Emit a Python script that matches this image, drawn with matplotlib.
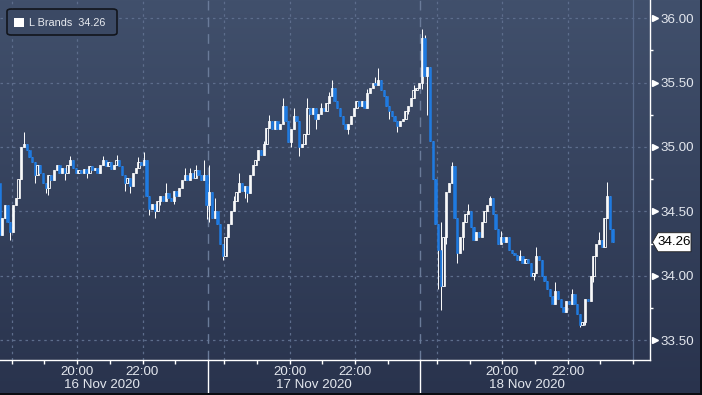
import numpy as np
import matplotlib
matplotlib.use("Agg")
import matplotlib.pyplot as plt
from matplotlib.patches import Rectangle, Polygon, FancyBboxPatch
from matplotlib.lines import Line2D
import matplotlib.transforms as mtransforms

# ---------------- data (5-minute bars, one list per session) ----------------
series_name = "L Brands"
last_price = 34.26
first_open = 34.70

day_labels = ["16 Nov 2020", "17 Nov 2020", "18 Nov 2020"]
hour_labels = ["20:00", "22:00"]

close_day1 = [34.72, 34.32, 34.45, 34.55, 34.42, 34.34, 34.55, 34.60, 34.75, 35.00,
              35.02, 34.98, 34.92, 34.88, 34.78, 34.86, 34.80, 34.72, 34.68, 34.78,
              34.74, 34.82, 34.86, 34.80, 34.84, 34.80, 34.86, 34.90, 34.84, 34.80,
              34.82, 34.80, 34.83, 34.80, 34.85, 34.82, 34.84, 34.80, 34.86, 34.90,
              34.85, 34.88, 34.83, 34.86, 34.90, 34.85, 34.78, 34.72, 34.76, 34.70,
              34.80, 34.84, 34.88, 34.86, 34.90, 34.62, 34.52, 34.56, 34.50, 34.58,
              34.62, 34.58, 34.64, 34.60, 34.58, 34.66, 34.62, 34.68, 34.74, 34.78,
              34.74, 34.80, 34.76, 34.82, 34.78, 34.74, 34.78, 34.55]
close_day2 = [34.65, 34.45, 34.50, 34.40, 34.25, 34.15, 34.30, 34.40, 34.50, 34.58,
              34.65, 34.72, 34.66, 34.70, 34.64, 34.78, 34.86, 34.90, 34.98, 34.94,
              35.02, 35.15, 35.20, 35.14, 35.20, 35.14, 35.18, 35.32, 35.20, 35.04,
              35.14, 35.24, 35.20, 35.00, 35.02, 35.10, 35.30, 35.26, 35.30, 35.22,
              35.26, 35.30, 35.28, 35.34, 35.40, 35.46, 35.36, 35.30, 35.24, 35.18,
              35.14, 35.18, 35.24, 35.30, 35.36, 35.32, 35.36, 35.30, 35.42, 35.46,
              35.50, 35.48, 35.52, 35.44, 35.40, 35.32, 35.28, 35.24, 35.20, 35.16,
              35.20, 35.22, 35.28, 35.32, 35.38, 35.44, 35.46, 35.50]
close_day3 = [35.85, 35.55, 35.62, 35.05, 34.75, 34.40, 34.20, 33.92, 34.30, 34.65,
              34.72, 34.85, 34.45, 34.18, 34.30, 34.42, 34.48, 34.50, 34.38, 34.28,
              34.34, 34.30, 34.42, 34.50, 34.55, 34.60, 34.48, 34.36, 34.25, 34.30,
              34.26, 34.30, 34.20, 34.18, 34.16, 34.12, 34.15, 34.10, 34.13, 34.10,
              34.00, 34.02, 34.15, 34.12, 34.00, 33.96, 33.90, 33.84, 33.78, 33.88,
              33.82, 33.76, 33.72, 33.80, 33.78, 33.86, 33.78, 33.70, 33.62, 33.64,
              33.82, 33.80, 34.00, 34.15, 34.25, 34.28, 34.22, 34.45, 34.62, 34.36,
              34.26]

# wick extremes that reach beyond the candle body (bar index -> price)
high_day1 = {0: 34.78, 1: 34.76, 10: 35.12, 12: 34.98, 13: 34.92, 27: 34.93,
             39: 34.93, 44: 34.94, 52: 34.92, 54: 34.96, 62: 34.72, 69: 34.84,
             71: 34.84, 73: 34.86, 76: 34.90}
low_day1 = {1: 34.22, 5: 34.28, 14: 34.72, 18: 34.64, 19: 34.63, 21: 34.76,
            25: 34.74, 33: 34.76, 47: 34.66, 49: 34.64, 56: 34.47, 58: 34.45,
            60: 34.55, 65: 34.56, 77: 34.44}
high_day2 = {0: 34.86, 2: 34.60, 9: 34.62, 11: 34.80, 20: 35.05, 22: 35.25,
             23: 35.20, 27: 35.38, 31: 35.30, 36: 35.38, 41: 35.34, 44: 35.43,
             45: 35.52, 58: 35.45, 61: 35.54, 62: 35.61, 75: 35.48}
low_day2 = {0: 34.42, 5: 34.12, 13: 34.60, 14: 34.57, 16: 34.82, 30: 35.00,
            33: 34.93, 35: 35.02, 39: 35.14, 51: 35.10, 53: 35.24, 66: 35.22,
            69: 35.12, 73: 35.26}
high_day3 = {0: 35.92, 1: 35.87, 7: 34.42, 11: 34.88, 17: 34.56, 25: 34.62,
             29: 34.35, 36: 34.20, 42: 34.22, 49: 33.95, 55: 33.90, 65: 34.34,
             68: 34.73}
low_day3 = {0: 35.45, 2: 35.25, 6: 33.90, 7: 33.73, 9: 34.25, 13: 34.10,
            15: 34.20, 22: 34.32, 41: 33.97, 58: 33.60, 60: 33.62, 63: 33.95}

y_ticks = [33.50, 34.00, 34.50, 35.00, 35.50, 36.00]

# ---------------- layout ----------------
W, H = 702, 395
fig = plt.figure(figsize=(W / 100, H / 100), dpi=100)
plt.rcParams['font.family'] = ['Liberation Sans', 'DejaVu Sans']

# gradient background
bg = fig.add_axes([0, 0, 1, 1], zorder=-10)
g = np.linspace(0, 1, 256)[:, None, None]
top = np.array([0x41, 0x50, 0x6c]) / 255
bot = np.array([0x29, 0x33, 0x4d]) / 255
bg.imshow(top * (1 - g) + bot * g, aspect='auto', extent=[0, 1, 0, 1])
bg.set_axis_off()

AX_R, AX_B = 650, 360
ax = fig.add_axes([0, 1 - AX_B / H, AX_R / W, AX_B / H])
ax.patch.set_alpha(0)

DAY_LEN = 6.5          # session length in hours (17:30 - 24:00)
PX_PER_H = 32.7
x_left = 4.65 / PX_PER_H
ax.set_xlim(x_left, x_left + AX_R / PX_PER_H)
ax.set_ylim(33.345, 36.142)

# ---------------- grid ----------------
grid_c = '#5d6d8c'
for yv in y_ticks:
    ax.axhline(yv, color=grid_c, lw=0.9, ls=(0, (2, 3)), zorder=1)
for d in range(3):
    for h in (0.5, 2.5, 4.5):
        ax.axvline(d * DAY_LEN + h, color=grid_c, lw=0.9, ls=(0, (2, 3)), zorder=1)
for d in (1, 2):
    ax.axvline(d * DAY_LEN, color='#6a7b99', lw=1.0, ls=(0, (7, 5)), zorder=1)
ax.axvline(3 * DAY_LEN, color='#57698a', lw=0.9, zorder=1)

# ---------------- candles ----------------
closes = [close_day1, close_day2, close_day3]
highs = [high_day1, high_day2, high_day3]
lows = [low_day1, low_day2, low_day3]
up_c, dn_c = 'white', '#1f7ae0'
bw = 0.85 / 12
prev = first_open
for d in range(3):
    for i, c in enumerate(closes[d]):
        o = prev
        t = d * DAY_LEN + (i + 0.5) / 12
        hi = max(o, c, highs[d].get(i, max(o, c)))
        lo = min(o, c, lows[d].get(i, min(o, c)))
        ax.plot([t, t], [lo, hi], color='white', lw=0.7, zorder=2,
                solid_capstyle='butt')
        b0, bh = min(o, c), abs(c - o)
        if c >= o:
            ax.add_patch(Rectangle((t - bw / 2, b0), bw, bh, facecolor='none',
                                   edgecolor=up_c, lw=0.6, zorder=3))
        else:
            ax.add_patch(Rectangle((t - bw / 2, b0), bw, bh, facecolor=dn_c,
                                   edgecolor=dn_c, lw=0.4, zorder=3))
        prev = c

# ---------------- axes styling ----------------
for s in ('left', 'top'):
    ax.spines[s].set_visible(False)
for s in ('bottom', 'right'):
    ax.spines[s].set_color('white')
    ax.spines[s].set_linewidth(1.0)

txt_c = '#e3e7ee'
ax.yaxis.tick_right()
ax.set_yticks(y_ticks)
ax.set_yticklabels([f"{v:.2f}" for v in y_ticks])
ax.set_yticks([v + 0.25 for v in y_ticks[:-1]], minor=True)
ax.tick_params(axis='y', which='major', length=0, pad=7.5, labelsize=9.6,
               labelcolor=txt_c)
ax.tick_params(axis='y', which='minor', length=2.5, width=1, color='white',
               direction='out')
# triangle markers for major y ticks
tri_tr = mtransforms.blended_transform_factory(ax.transAxes, ax.transData)
ax.plot([1 + 4.5 / AX_R] * len(y_ticks), y_ticks, marker='>', ls='none',
        color='white', ms=4.5, transform=tri_tr, clip_on=False, zorder=5)

major_x = [d * DAY_LEN + h for d in range(3) for h in (2.5, 4.5)]
minor_x = [d * DAY_LEN + h for d in range(3) for h in (0.5, 1.5, 3.5, 5.5)] + [3 * DAY_LEN]
ax.set_xticks(major_x)
ax.set_xticklabels(hour_labels * 3)
ax.set_xticks(minor_x, minor=True)
ax.tick_params(axis='x', which='both', length=3, width=1, color='white',
               direction='out', labelsize=9.6, labelcolor=txt_c, pad=1.5)

# date labels, centred under each session
date_tr = mtransforms.blended_transform_factory(ax.transData, fig.transFigure)
for d, lab in enumerate(day_labels):
    ax.text(d * DAY_LEN + DAY_LEN / 2, 1 - 385 / H, lab, transform=date_tr,
            ha='center', va='center', fontsize=9.6, color=txt_c)

# day separator lines below the axis
for d in (1, 2):
    ax.add_line(Line2D([d * DAY_LEN, d * DAY_LEN], [1 - AX_B / H, 1 - 393 / H],
                       transform=date_tr, color='white', lw=1.0, clip_on=False))

# ---------------- legend box ----------------
def fpx(x, y):
    return (x / W, 1 - y / H)

leg = FancyBboxPatch(fpx(7, 35), 110 / W, 26 / H,
                     boxstyle="round,pad=0,rounding_size=0.006",
                     transform=fig.transFigure, facecolor='#3b4964',
                     edgecolor='#12151c', lw=1.2, zorder=10)
fig.patches.append(leg)
fig.patches.append(Rectangle(fpx(14, 27), 10 / W, 9 / H, transform=fig.transFigure,
                             facecolor='white', edgecolor='none', zorder=11))
fig.text(29 / W, 1 - 22.5 / H, f"{series_name}  {last_price:.2f}", fontsize=7.8,
         color='#e8ebf0', va='center', ha='left', zorder=12)

# ---------------- last price tag ----------------
fig.canvas.draw()
_, yp = ax.transData.transform((0, last_price))
tag = Polygon([(652.5, yp), (658, yp + 9.5), (691, yp + 9.5), (691, yp - 9.5),
               (658, yp - 9.5)], closed=True, transform=mtransforms.IdentityTransform(),
              facecolor='white', edgecolor='#222222', lw=0.6, zorder=10)
fig.patches.append(tag)
fig.text(674.5 / W, yp / H, f"{last_price:.2f}", fontsize=9.6, color='black',
         ha='center', va='center', zorder=12)

# thin dark frame on the bottom and right edges
fig.patches.append(Rectangle((0, 0), 1, 2 / H, transform=fig.transFigure,
                             facecolor='#0b0d12', edgecolor='none', zorder=20))
fig.patches.append(Rectangle((1 - 2 / W, 0), 2 / W, 1, transform=fig.transFigure,
                             facecolor='#0b0d12', edgecolor='none', zorder=20))

fig.savefig("out.png", dpi=100)
